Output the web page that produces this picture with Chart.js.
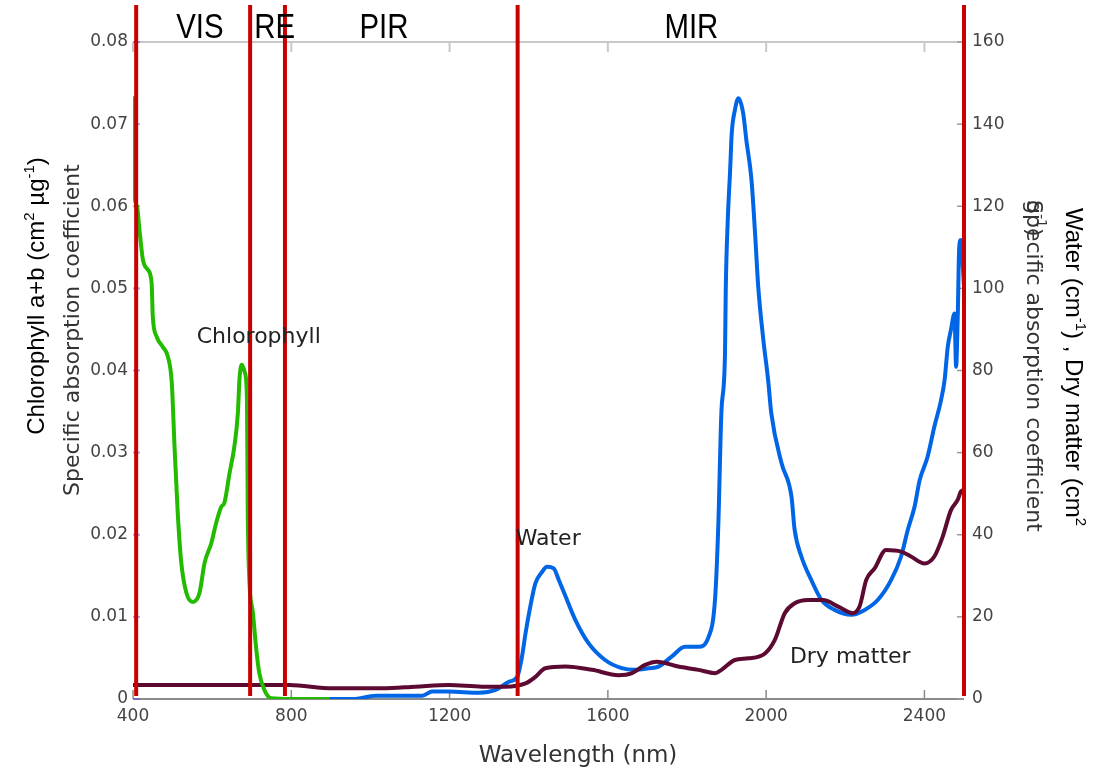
<!DOCTYPE html>
<html>
<head>
<meta charset="utf-8">
<script src="https://cdn.jsdelivr.net/npm/chart.js@4/dist/chart.umd.min.js"></script>
<style>
  body { margin: 0; background: #fff; }
  canvas { display: block; }
</style>
</head>
<body>
<canvas id="spectre" width="1103" height="769"></canvas>
<script>
// Chlorophyll a+b (left axis)
const chlNm = [400, 401, 410, 417, 425, 437, 447, 450, 460, 475, 488, 498, 505, 513, 522, 535, 551, 568, 581, 598, 610, 623, 631, 644, 656, 665, 669, 675, 683, 688, 690, 694, 703, 711, 719, 732, 749, 800, 896];
const chlVal = [0.0734, 0.064, 0.060, 0.0568, 0.0535, 0.0523, 0.0507, 0.0466, 0.0441, 0.0429, 0.0417, 0.0385, 0.0307, 0.0227, 0.0166, 0.0129, 0.0118, 0.0129, 0.0166, 0.019, 0.0214, 0.0234, 0.0239, 0.0275, 0.0307, 0.0348, 0.0389, 0.0407, 0.0397, 0.0364, 0.0227, 0.0145, 0.0105, 0.0063, 0.0032, 0.0011, 0.0001, 0, 0];

// Water (right axis)
const waterNm = [896, 955, 1014, 1131, 1156, 1198, 1274, 1316, 1350, 1371, 1383, 1392, 1404, 1417, 1434, 1446, 1463, 1476, 1493, 1518, 1551, 1593, 1635, 1669, 1703, 1728, 1761, 1795, 1829, 1854, 1871, 1879, 1887, 1896, 1898, 1903, 1909, 1913, 1921, 1930, 1942, 1950, 1963, 1972, 1980, 1993, 2005, 2013, 2039, 2064, 2072, 2089, 2114, 2140, 2173, 2215, 2249, 2282, 2316, 2341, 2358, 2375, 2388, 2408, 2425, 2442, 2451, 2459, 2467, 2476, 2480, 2484, 2488, 2492, 2500];
const waterVal = [0, 0, 0.8, 0.8, 1.8, 1.8, 1.5, 2.2, 4.2, 5.4, 10.3, 16, 22.5, 28.2, 31, 32.2, 31.8, 29, 25, 19.2, 13.6, 9.5, 7.5, 7.1, 7.5, 7.9, 10.3, 12.7, 12.7, 15, 24.5, 42, 70, 84, 100, 116.6, 128.8, 137.7, 143.4, 146.3, 142.6, 136.1, 126.4, 113.4, 100.4, 87.4, 77.7, 69.6, 57.4, 49.3, 41.2, 34.7, 29, 24.1, 21.7, 20.5, 21.7, 24.1, 29, 34.7, 41.2, 46.8, 53.3, 59, 66.3, 72.8, 77.7, 85.8, 89.9, 93.9, 80.9, 92.3, 110.1, 111.8, 100.4];

// Dry matter (right axis)
const dryNm = [400, 795, 904, 1030, 1114, 1198, 1282, 1341, 1392, 1417, 1442, 1493, 1560, 1627, 1661, 1694, 1724, 1778, 1829, 1871, 1887, 1921, 1955, 1997, 2022, 2047, 2072, 2106, 2144, 2182, 2219, 2236, 2253, 2274, 2303, 2341, 2366, 2400, 2425, 2446, 2467, 2484, 2492, 2500];
const dryVal = [3.4, 3.4, 2.6, 2.6, 3.0, 3.4, 3.0, 3.0, 3.8, 5.4, 7.5, 7.9, 7.1, 5.8, 6.3, 8.3, 9.1, 7.9, 7.1, 6.3, 7.1, 9.5, 9.9, 11.1, 14.4, 20.9, 23.3, 24.1, 24.1, 22.5, 20.9, 22.5, 29, 31.8, 36.3, 35.9, 34.7, 33, 34.7, 39.5, 46, 48.5, 50.5, 51];

const xTicks = [400, 800, 1200, 1600, 2000, 2400];

// spectral domains
const bornes = [408, 696, 784, 1372, 2500];
const domaines = ['VIS', 'RE', 'PIR', 'MIR'];
const domaineNm = [569, 758, 1034, 1811];

const etiquettes = [
  { texte: 'Chlorophyll', nm: 561, val: 0.0434, axe: 'y' },
  { texte: 'Water', nm: 1367, val: 37.5, axe: 'y2' },
  { texte: 'Dry matter', nm: 2060, val: 8.8, axe: 'y2' }
];

function points(xs, ys) {
  return xs.map((x, i) => ({ x: x, y: ys[i] }));
}

// text with superscripts: parts = [[text, sup?], ...]
function texteRiche(ctx, parts, font, supFont, align) {
  let total = 0;
  parts.forEach(p => {
    ctx.font = p[1] ? supFont : font;
    total += ctx.measureText(p[0]).width;
  });
  let x = align === 'center' ? -total / 2 : 0;
  ctx.textAlign = 'left';
  ctx.textBaseline = 'alphabetic';
  parts.forEach(p => {
    ctx.font = p[1] ? supFont : font;
    ctx.fillText(p[0], x, p[1] ? -10 : 0);
    x += ctx.measureText(p[0]).width;
  });
}

const decor = {
  id: 'decor',
  beforeDatasetsDraw(chart) {
    const ctx = chart.ctx;
    const a = chart.chartArea;
    const sx = chart.scales.x, sy = chart.scales.y, sy2 = chart.scales.y2;
    ctx.save();
    // top frame
    ctx.strokeStyle = '#c8c8c8';
    ctx.lineWidth = 2;
    ctx.beginPath();
    ctx.moveTo(a.left, a.top);
    ctx.lineTo(a.right, a.top);
    ctx.stroke();
    sx.ticks.forEach(t => {
      const px = sx.getPixelForValue(t.value);
      ctx.beginPath();
      ctx.moveTo(px, a.top);
      ctx.lineTo(px, a.top + 10);
      ctx.stroke();
    });
    // bottom axis
    ctx.strokeStyle = '#8a8a8a';
    ctx.beginPath();
    ctx.moveTo(a.left, a.bottom);
    ctx.lineTo(a.right, a.bottom);
    ctx.stroke();
    ctx.lineWidth = 1.5;
    sx.ticks.forEach(t => {
      const px = sx.getPixelForValue(t.value);
      ctx.beginPath();
      ctx.moveTo(px, a.bottom - 9);
      ctx.lineTo(px, a.bottom);
      ctx.stroke();
    });
    // left ticks (blue)
    ctx.strokeStyle = 'rgba(90,90,255,0.55)';
    ctx.lineWidth = 2;
    sy.ticks.forEach(t => {
      const py = sy.getPixelForValue(t.value);
      ctx.beginPath();
      ctx.moveTo(a.left, py);
      ctx.lineTo(a.left + 7, py);
      ctx.stroke();
    });
    // right ticks
    ctx.strokeStyle = '#9a9a9a';
    ctx.lineWidth = 1.5;
    sy2.ticks.forEach(t => {
      const py = sy2.getPixelForValue(t.value);
      ctx.beginPath();
      ctx.moveTo(a.right - 7, py);
      ctx.lineTo(a.right, py);
      ctx.stroke();
    });
    ctx.restore();
  },
  afterDatasetsDraw(chart) {
    const ctx = chart.ctx;
    const a = chart.chartArea;
    const sx = chart.scales.x;
    ctx.save();
    ctx.strokeStyle = '#c80000';
    ctx.lineWidth = 4;
    bornes.forEach(nm => {
      const px = sx.getPixelForValue(nm);
      ctx.beginPath();
      ctx.moveTo(px, 5);
      ctx.lineTo(px, a.bottom - 3);
      ctx.stroke();
    });
    ctx.fillStyle = '#000';
    ctx.font = '35px "Liberation Sans", Arial, sans-serif';
    ctx.textAlign = 'center';
    ctx.textBaseline = 'alphabetic';
    domaines.forEach((d, i) => {
      ctx.save();
      ctx.translate(sx.getPixelForValue(domaineNm[i]), 38);
      ctx.scale(0.84, 1);
      ctx.fillText(d, 0, 0);
      ctx.restore();
    });
    ctx.restore();
  },
  afterDraw(chart) {
    const ctx = chart.ctx;
    const sx = chart.scales.x;
    ctx.save();
    // curve labels
    ctx.fillStyle = '#222';
    ctx.font = '22px "DejaVu Sans", sans-serif';
    ctx.textAlign = 'left';
    ctx.textBaseline = 'alphabetic';
    etiquettes.forEach(e => {
      ctx.fillText(e.texte, sx.getPixelForValue(e.nm), chart.scales[e.axe].getPixelForValue(e.val));
    });

    // x title
    ctx.fillStyle = '#333';
    ctx.font = '23px "DejaVu Sans", sans-serif';
    ctx.textAlign = 'center';
    ctx.fillText('Wavelength (nm)', 578, 762);

    const big = '24px "Liberation Sans", Arial, sans-serif';
    const bigSup = '15px "Liberation Sans", Arial, sans-serif';
    const mid = '22px "DejaVu Sans", sans-serif';
    const midSup = '14px "DejaVu Sans", sans-serif';

    // left titles
    ctx.save();
    ctx.translate(44, 296);
    ctx.rotate(-Math.PI / 2);
    ctx.fillStyle = '#000';
    texteRiche(ctx, [['Chlorophyll a+b (cm'], ['2', true], [' \u00b5g'], ['-1', true], [')']], big, bigSup, 'center');
    ctx.restore();

    ctx.save();
    ctx.translate(79, 330);
    ctx.rotate(-Math.PI / 2);
    ctx.fillStyle = '#333';
    texteRiche(ctx, [['Specific absorption coefficient']], mid, midSup, 'center');
    ctx.restore();

    // right titles
    ctx.save();
    ctx.translate(1066, 208);
    ctx.rotate(Math.PI / 2);
    ctx.fillStyle = '#000';
    texteRiche(ctx, [['Water (cm'], ['-1', true], [') , Dry matter (cm'], ['2', true]], big, bigSup, 'left');
    ctx.restore();

    ctx.save();
    ctx.translate(1027, 200);
    ctx.rotate(Math.PI / 2);
    ctx.fillStyle = '#333';
    texteRiche(ctx, [['Specific absorption coefficient']], mid, midSup, 'left');
    texteRiche(ctx, [['g'], ['-1', true], [')']], mid, midSup, 'left');
    ctx.restore();

    ctx.restore();
  }
};

const tickFont = { family: '"DejaVu Sans", sans-serif', size: 17 };

function courbe(label, xs, ys, axe, couleur) {
  return {
    label: label,
    data: points(xs, ys),
    yAxisID: axe,
    borderColor: couleur,
    borderWidth: 4,
    pointRadius: 0,
    cubicInterpolationMode: 'monotone'
  };
}

new Chart(document.getElementById('spectre'), {
  type: 'line',
  data: {
    datasets: [
      courbe('Chlorophyll', chlNm, chlVal, 'y', '#22bb00'),
      courbe('Dry matter', dryNm, dryVal, 'y2', '#5c0a32'),
      courbe('Water', waterNm, waterVal, 'y2', '#0066e6')
    ]
  },
  options: {
    responsive: false,
    animation: false,
    layout: { padding: { top: 42, left: 0, right: 0, bottom: 0 } },
    plugins: {
      legend: { display: false },
      tooltip: { enabled: false }
    },
    scales: {
      x: {
        type: 'linear',
        min: 400,
        max: 2500,
        grid: { display: false, drawTicks: false },
        border: { display: false },
        ticks: {
          color: '#444',
          font: tickFont,
          padding: 7,
          maxRotation: 0,
          autoSkip: false,
          callback: function (v) { return String(v); }
        },
        afterBuildTicks: function (s) { s.ticks = xTicks.map(v => ({ value: v })); },
        afterFit: function (s) { s.height = 70; }
      },
      y: {
        position: 'left',
        min: 0,
        max: 0.08,
        grid: { display: false, drawTicks: false },
        border: { display: false },
        ticks: {
          stepSize: 0.01,
          color: '#444',
          font: tickFont,
          padding: 5,
          callback: function (v) { return v === 0 ? '0' : v.toFixed(2); }
        },
        afterFit: function (s) { s.width = 133; }
      },
      y2: {
        position: 'right',
        min: 0,
        max: 160,
        grid: { display: false, drawTicks: false },
        border: { display: false },
        ticks: { stepSize: 20, color: '#444', font: tickFont, padding: 8 },
        afterFit: function (s) { s.width = 139; }
      }
    }
  },
  plugins: [decor]
});
</script>
</body>
</html>
